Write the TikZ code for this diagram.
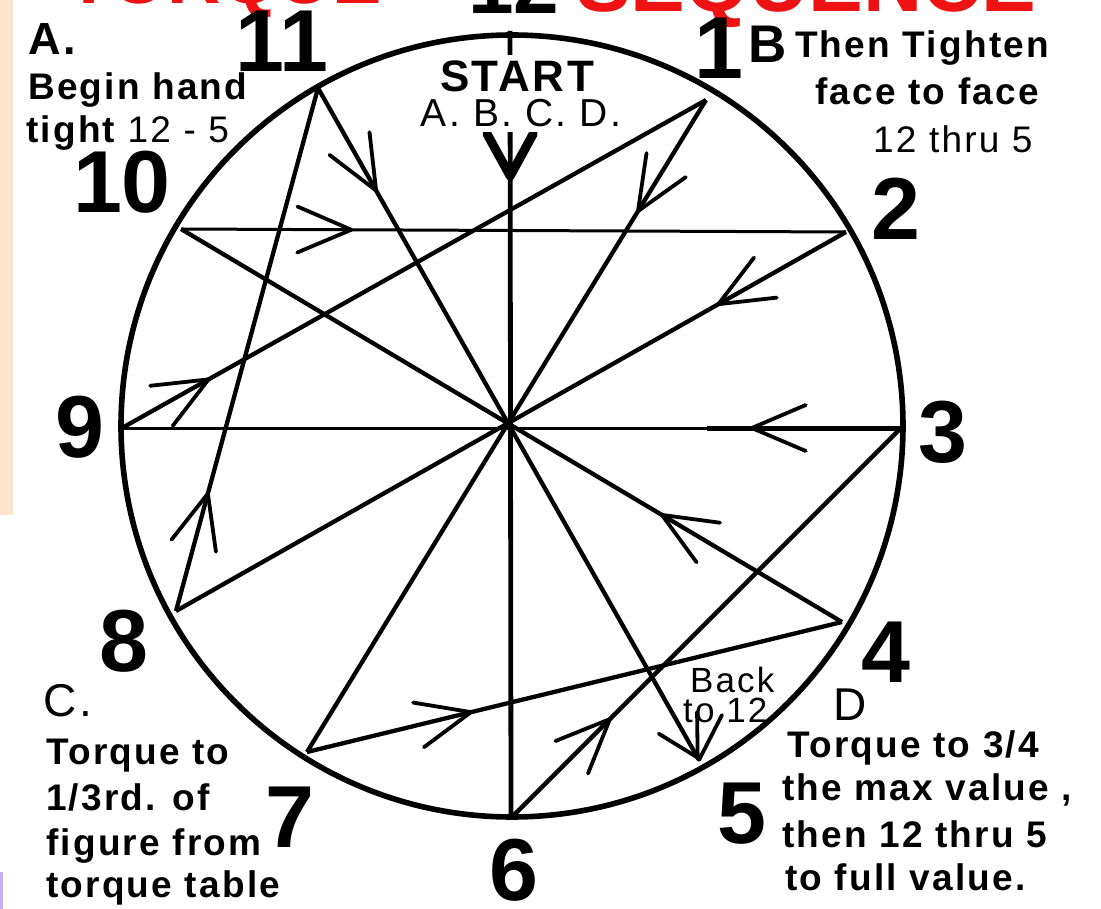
\documentclass[tikz,border=0pt]{standalone}
\usepackage{fontspec}
\setmainfont{Liberation Sans}
\newfontfamily\labfont[LetterSpace=6]{Liberation Sans}
\usetikzlibrary{arrows.meta,decorations.markings,calc}
\definecolor{peach}{RGB}{253,229,205}
\definecolor{lilac}{RGB}{196,178,246}
\definecolor{titlered}{RGB}{238,18,18}
\tikzset{
  chord/.style={line width=4.3pt},
  hchord/.style={line width=3pt},
  rim/.style={line width=5.6pt},
  barbat/.style={postaction={decorate},decoration={markings,mark=at position #1 with {\arrow{Straight Barb[length=54pt,width=46pt,line width=3.8pt,round]}}}},
  numlbl/.style={font=\bfseries\fontsize{88}{88}\selectfont,inner sep=0pt,anchor=base},
  ttl/.style={font=\bfseries\fontsize{82}{82}\selectfont,inner sep=0pt,anchor=base west},
  txt/.style={font=\labfont\bfseries\fontsize{37}{40}\selectfont,inner sep=0pt,anchor=base west},
  txtreg/.style={font=\labfont\fontsize{37}{40}\selectfont,inner sep=0pt,anchor=base west},
  big/.style={font=\labfont\bfseries\fontsize{45}{48}\selectfont,inner sep=0pt,anchor=base west},
  bigreg/.style={font=\labfont\fontsize{46}{48}\selectfont,inner sep=0pt,anchor=base west},
  small/.style={font=\labfont\fontsize{35}{38}\selectfont,inner sep=0pt,anchor=base west},
}
\begin{document}
\begin{tikzpicture}[x=1pt,y=-1pt]
\useasboundingbox (0,0) rectangle (1101,909);
\fill[white] (0,0) rectangle (1101,909);
\fill[peach] (0,0) rectangle (13,515);
\fill[lilac] (0,872) rectangle (3,909);

% title (mostly cut off at the top)
\node[ttl,text=titlered,font=\bfseries\fontsize{74}{74}\selectfont] (ttlA) at (66,4) {TORQUE};
\node[ttl] (ttlB) at (468,14) {12};
\node[ttl,text=titlered] (ttlC) at (576,12) {SEQUENCE};

% points
\coordinate (c) at (512,426);
\coordinate (p12) at (510,31);
\coordinate (p1) at (706,100);
\coordinate (p2) at (846,232);
\coordinate (p3) at (901,428);
\coordinate (p4) at (842,622);
\coordinate (p5) at (699,760);
\coordinate (p6) at (511,818);
\coordinate (p7) at (307,752);
\coordinate (p8) at (176,611);
\coordinate (p9) at (122,428);
\coordinate (p10) at (181,229);
\coordinate (p11) at (318,88);

\draw[rim] (c) circle[radius=391];

% sequence lines
\draw[line width=4.8pt,postaction={decorate},decoration={markings,mark=at position 0.19 with {\arrow{Straight Barb[length=42pt,width=46pt,line width=9pt,round]}}}] (p12) -- (p6);
\draw[chord,barbat=0.257] (p6) -- (p3);
\draw[hchord,barbat=0.194] (p3) -- (p9);
\draw[line width=5pt] (p3) -- ($(p3)!0.249!(p9)$);
\draw[chord,barbat=0.151] (p9) -- (p1);
\draw[chord,barbat=0.173] (p1) -- (p7);
\draw[chord,barbat=0.31] (p7) -- (p4);
\draw[chord,barbat=0.275] (p4) -- (p10);
\draw[hchord,barbat=0.259] (p10) -- (p2);
\draw[chord,barbat=0.193] (p2) -- (p8);
\draw[chord,barbat=0.228] (p8) -- (p11);
\draw[chord,postaction={decorate},decoration={markings,
  mark=at position 0.155 with {\arrow{Straight Barb[length=54pt,width=46pt,line width=3.8pt,round]}},
  mark=at position 0.999 with {\arrow{Straight Barb[length=40pt,width=44pt,line width=3.8pt,round]}}}] (p11) -- (p5);
\coordinate (bk) at (722,715);
\draw[line width=3.8pt,line cap=round] (bk) -- (p5);

% clock numbers
\node[numlbl] (n11) at (282,72) {11};
\node[numlbl] (n1) at (719,79) {1};
\node[numlbl] (n10) at (122,213) {10};
\node[numlbl] (n2) at (896,240) {2};
\node[numlbl] (n9) at (80,457) {9};
\node[numlbl] (n3) at (943,462) {3};
\node[numlbl] (n8) at (124,671) {8};
\node[numlbl] (n4) at (886,682) {4};
\node[numlbl] (n7) at (290,847) {7};
\node[numlbl] (n5) at (742,843) {5};
\node[numlbl] (n6) at (514,900) {6};

% texts
\node[big] (tA) at (28,55) {A.};
\node[txt] (tA1) at (28,100) {Begin hand};
\node[txt] (tA2) at (26,143) {tight {\mdseries 12 - 5}};

\node[font=\labfont\bfseries\fontsize{44}{46}\selectfont,inner sep=6pt,fill=white,anchor=base] (tS) at (517,92) {START};
\node[font=\labfont\fontsize{39}{42}\selectfont,inner sep=5pt,fill=white,anchor=base] (tS2) at (521,127) {A. B. C. D.};

\node[font=\bfseries\fontsize{53}{55}\selectfont,inner sep=0pt,anchor=base west] (tB) at (748,63) {B};
\node[txt] (tB1) at (795,58) {Then Tighten};
\node[txt] (tB2) at (815,105) {face to face};
\node[txtreg] (tB3) at (873,153) {12 thru 5};

\node[bigreg] (tC) at (43,716) {C.};
\node[txt] (tC1) at (46,764) {Torque to};
\node[txt] (tC2) at (46,810) {1/3rd. of};
\node[txt] (tC3) at (46,855) {figure from};
\node[txt] (tC4) at (46,897) {torque table};

\node[bigreg] (tD) at (833,720) {D};
\node[txt] (tD1) at (787,757) {Torque to 3/4};
\node[txt] (tD2) at (782,800) {the max value ,};
\node[txt] (tD3) at (782,847) {then 12 thru 5};
\node[txt] (tD4) at (785,890) {to full value.};

\node[small] (tBk1) at (690,692) {Back};
\node[small] (tBk2) at (683,722) {to 12};
\end{tikzpicture}
\end{document}
